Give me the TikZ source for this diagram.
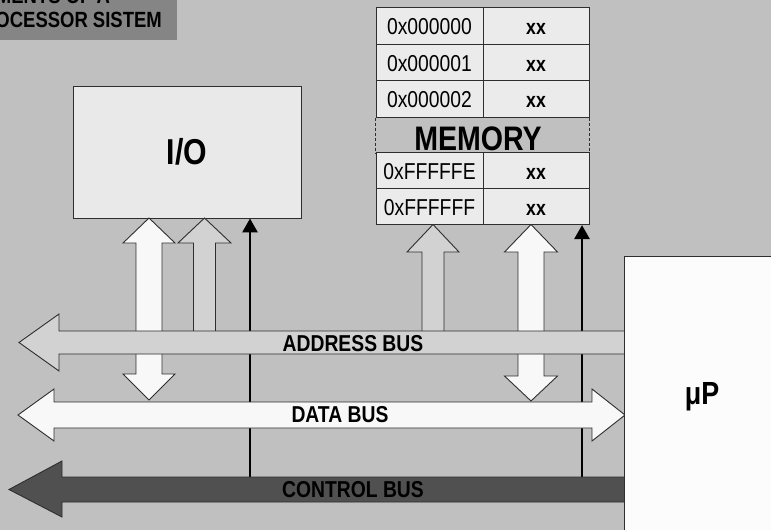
\documentclass[tikz,border=0pt]{standalone}
\usepackage{fontspec}
\setmainfont{Liberation Sans}[FakeStretch=0.84]
\usetikzlibrary{arrows.meta}

\definecolor{backgray}{HTML}{C0C0C0}
\definecolor{titlegray}{HTML}{858585}
\definecolor{edgegray}{HTML}{2E2E2E}
\definecolor{boxfill}{HTML}{E9E9E9}
\definecolor{cellfill}{HTML}{EBEBEB}
\definecolor{addrfill}{HTML}{D2D2D2}
\definecolor{datafill}{HTML}{F8F8F8}
\definecolor{ctrlfill}{HTML}{505050}
\definecolor{cpufill}{HTML}{FCFCFC}

% block arrow pointing up: style, cx, tip y, head base y, bottom y, shaft half, head half
\newcommand\BlkUp[7]{%
  \draw[#1] ({#2-#6},#5) -- ({#2-#6},#4) -- ({#2-#7},#4) -- (#2,#3)
    -- ({#2+#7},#4) -- ({#2+#6},#4) -- ({#2+#6},#5) -- cycle;}
% block arrow with two heads: style, cx, top tip, top head base, bottom head base, bottom tip, shaft half, head half
\newcommand\BlkBoth[8]{%
  \draw[#1] ({#2-#7},#5) -- ({#2-#7},#4) -- ({#2-#8},#4) -- (#2,#3)
    -- ({#2+#8},#4) -- ({#2+#7},#4) -- ({#2+#7},#5) -- ({#2+#8},#5)
    -- (#2,#6) -- ({#2-#8},#5) -- cycle;}

\begin{document}
\begin{tikzpicture}[x=1pt,y=-1pt,
  outline/.style={draw=edgegray, line width=0.9pt, line join=miter},
  addrshape/.style={outline, fill=addrfill},
  datashape/.style={outline, fill=datafill},
  ctrlshape/.style={outline, fill=ctrlfill},
  ctrlline/.style={line width=2.8pt, black, -{Triangle[length=14pt,width=15pt]}},
  cell/.style={outline, fill=cellfill, minimum height=36.3pt, inner sep=0pt,
    text height=17pt, text depth=0pt},
  addrcell/.style={cell, minimum width=107pt, font=\fontsize{23}{24}\selectfont},
  datacell/.style={cell, minimum width=106pt, font=\bfseries\fontsize{21}{24}\selectfont},
  buslabel/.style={anchor=base, inner sep=0pt, font=\bfseries\fontsize{23}{24}\selectfont},
  block/.style={outline, inner sep=0pt}
]
\clip (0,0) rectangle (771,530);
\useasboundingbox (0,0) rectangle (771,530);
\fill[backgray] (0,0) rectangle (771,530);

% title plate
\fill[titlegray] (-20,-20) rectangle (177,40);
\node[align=center, inner sep=0pt, font=\bfseries\fontsize{22}{24}\selectfont]
  (title) at (35,8) {ELEMENTS OF A\\MICROPROCESSOR SISTEM};

% I/O block and memory map
\node[block, fill=boxfill, minimum width=228pt, minimum height=132pt,
  font=\bfseries\fontsize{36}{40}\selectfont] (io) at (187,152) {I/O};

\node[addrcell] (a0) at (429.5,26) {0x000000};
\node[datacell] (d0) at (536,26) {xx};
\node[addrcell] (a1) at (429.5,62.5) {0x000001};
\node[datacell] (d1) at (536,62.5) {xx};
\node[addrcell] (a2) at (429.5,99) {0x000002};
\node[datacell] (d2) at (536,99) {xx};
\draw[edgegray, line width=0.9pt, dash pattern=on 3pt off 2pt]
  (a2.south west) -- ++(0,36) (d2.south east) -- ++(0,36);
\node[anchor=base, inner sep=0pt, font=\bfseries\fontsize{34}{36}\selectfont]
  (memlabel) at (478,150) {MEMORY};
\node[addrcell] (a3) at (429.5,171) {0xFFFFFE};
\node[datacell] (d3) at (536,171) {xx};
\node[addrcell] (a4) at (429.5,206.5) {0xFFFFFF};
\node[datacell] (d4) at (536,206.5) {xx};

% control lines from the control bus
\coordinate (c1) at (250,477);
\coordinate (c2) at (582,477);
\draw[ctrlline] (c1) -- (c1 |- io.south);
\draw[ctrlline] (c2) -- (c2 |- d4.south);

% address and data links
\BlkBoth{datashape}{149}{218}{243}{374}{400}{13}{26}
\BlkUp{addrshape}{204.5}{218}{243}{332}{11}{26.5}
\BlkUp{addrshape}{433}{224.5}{252}{332}{11}{26}
\BlkBoth{datashape}{531}{224.5}{252}{376}{401}{13}{26.5}

% buses
\draw[addrshape] (625,331) -- (59,331) -- (59,314) -- (19,342.5) -- (59,371)
  -- (59,354) -- (625,354) -- cycle;
\draw[datashape] (54,402) -- (592,402) -- (592,389) -- (625,415) -- (592,441)
  -- (592,428) -- (54,428) -- (54,441) -- (18,415) -- (54,389) -- cycle;
\draw[ctrlshape] (625,477) -- (62,477) -- (62,461) -- (9,489.5) -- (62,517)
  -- (62,502) -- (625,502) -- cycle;
\node[buslabel] (abus) at (353,351) {ADDRESS BUS};
\node[buslabel] (dbus) at (340,422) {DATA BUS};
\node[buslabel] (cbus) at (353,497) {CONTROL BUS};

% processor
\draw[block, fill=cpufill] (624,256) rectangle (800,560);
\node[font=\bfseries\fontsize{32}{36}\selectfont, inner sep=0pt] (cpu) at (702,397) {μP};
\end{tikzpicture}
\end{document}
